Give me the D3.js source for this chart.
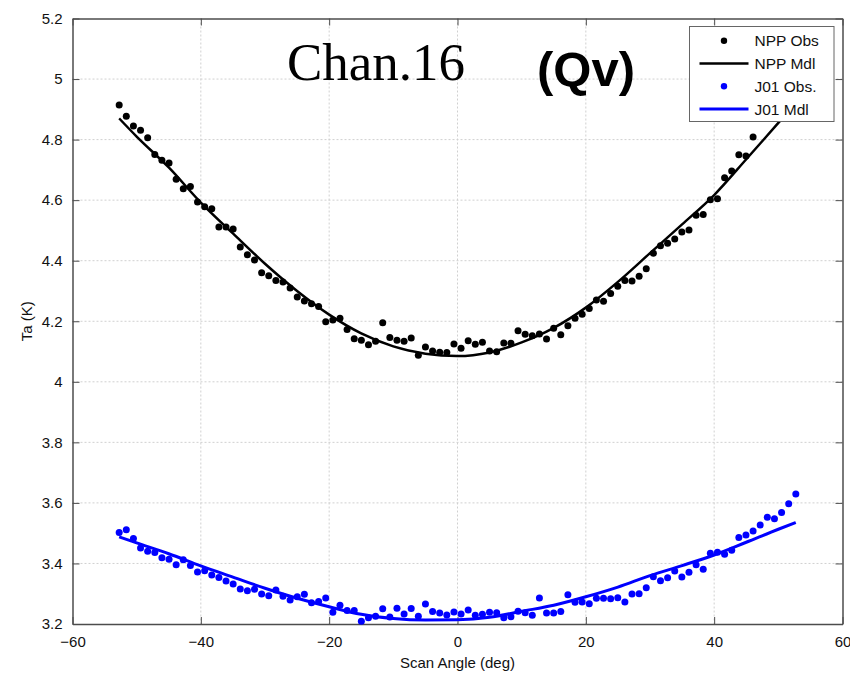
<!DOCTYPE html>
<html>
<head>
<meta charset="utf-8">
<script src="https://cdn.jsdelivr.net/npm/d3@7/dist/d3.min.js"></script>
<style>
  html, body { margin: 0; padding: 0; background: #fff; }
  svg { display: block; }
  text { font-family: "Liberation Sans", Arial, Helvetica, sans-serif; }
</style>
</head>
<body>
<svg id="chart" width="850" height="675"></svg>
<script>
// Scan angles of the ATMS beam positions (deg)
const nppAngles = [
  -52.725, -51.615, -50.505, -49.395, -48.285, -47.175, -46.065, -44.955, -43.845, -42.735,
  -41.625, -40.515, -39.405, -38.295, -37.185, -36.075, -34.965, -33.855, -32.745, -31.635,
  -30.525, -29.415, -28.305, -27.195, -26.085, -24.975, -23.865, -22.755, -21.645, -20.535,
  -19.425, -18.315, -17.205, -16.095, -14.985, -13.875, -12.765, -11.655, -10.545, -9.435,
  -8.325, -7.215, -6.105, -4.995, -3.885, -2.775, -1.665, -0.555, 0.555, 1.665,
  2.775, 3.885, 4.995, 6.105, 7.215, 8.325, 9.435, 10.545, 11.655, 12.765,
  13.875, 14.985, 16.095, 17.205, 18.315, 19.425, 20.535, 21.645, 22.755, 23.865,
  24.975, 26.085, 27.195, 28.305, 29.415, 30.525, 31.635, 32.745, 33.855, 34.965,
  36.075, 37.185, 38.295, 39.405, 40.515, 41.625, 42.735, 43.845, 44.955, 46.065
];
const j01Angles = [
  -52.725, -51.615, -50.505, -49.395, -48.285, -47.175, -46.065, -44.955, -43.845, -42.735,
  -41.625, -40.515, -39.405, -38.295, -37.185, -36.075, -34.965, -33.855, -32.745, -31.635,
  -30.525, -29.415, -28.305, -27.195, -26.085, -24.975, -23.865, -22.755, -21.645, -20.535,
  -19.425, -18.315, -17.205, -16.095, -14.985, -13.875, -12.765, -11.655, -10.545, -9.435,
  -8.325, -7.215, -6.105, -4.995, -3.885, -2.775, -1.665, -0.555, 0.555, 1.665,
  2.775, 3.885, 4.995, 6.105, 7.215, 8.325, 9.435, 10.545, 11.655, 12.765,
  13.875, 14.985, 16.095, 17.205, 18.315, 19.425, 20.535, 21.645, 22.755, 23.865,
  24.975, 26.085, 27.195, 28.305, 29.415, 30.525, 31.635, 32.745, 33.855, 34.965,
  36.075, 37.185, 38.295, 39.405, 40.515, 41.625, 42.735, 43.845, 44.955, 46.065,
  47.175, 48.285, 49.395, 50.505, 51.615, 52.725
];

// Observed antenna temperatures (K)
const nppObs = [
  4.914, 4.877, 4.845, 4.831, 4.806, 4.751, 4.732, 4.723, 4.669, 4.638,
  4.645, 4.594, 4.578, 4.572, 4.511, 4.511, 4.505, 4.445, 4.420, 4.402,
  4.360, 4.350, 4.335, 4.330, 4.310, 4.280, 4.267, 4.258, 4.249, 4.198,
  4.204, 4.210, 4.173, 4.142, 4.137, 4.122, 4.134, 4.195, 4.146, 4.137,
  4.134, 4.145, 4.088, 4.115, 4.102, 4.098, 4.097, 4.125, 4.111, 4.136,
  4.124, 4.131, 4.102, 4.099, 4.128, 4.127, 4.169, 4.157, 4.152, 4.158,
  4.141, 4.177, 4.155, 4.185, 4.210, 4.223, 4.242, 4.270, 4.266, 4.292,
  4.316, 4.335, 4.333, 4.349, 4.373, 4.425, 4.449, 4.458, 4.472, 4.495,
  4.501, 4.550, 4.553, 4.601, 4.605, 4.674, 4.696, 4.750, 4.746, 4.809
];
const j01Obs = [
  3.502, 3.511, 3.482, 3.451, 3.440, 3.436, 3.419, 3.414, 3.396, 3.412,
  3.393, 3.372, 3.376, 3.362, 3.354, 3.342, 3.332, 3.316, 3.310, 3.315,
  3.299, 3.293, 3.312, 3.292, 3.279, 3.290, 3.298, 3.270, 3.274, 3.286,
  3.239, 3.262, 3.245, 3.245, 3.209, 3.221, 3.226, 3.250, 3.223, 3.252,
  3.233, 3.251, 3.226, 3.266, 3.241, 3.236, 3.230, 3.240, 3.233, 3.246,
  3.229, 3.232, 3.239, 3.237, 3.221, 3.224, 3.242, 3.237, 3.229, 3.286,
  3.236, 3.236, 3.241, 3.297, 3.272, 3.273, 3.267, 3.285, 3.285, 3.283,
  3.287, 3.273, 3.299, 3.300, 3.320, 3.356, 3.343, 3.353, 3.375, 3.355,
  3.371, 3.396, 3.381, 3.434, 3.437, 3.430, 3.444, 3.486, 3.494, 3.507,
  3.527, 3.553, 3.548, 3.568, 3.597, 3.629
];

// Model curves (K) at selected scan angles
const mdlAngles = [-52.725, -50, -45, -40, -35, -30, -25, -20, -15, -10, -5, 0,
                   5, 10, 15, 20, 25, 30, 35, 40, 45, 50, 52.725];
const nppMdl = [4.870, 4.810, 4.708, 4.592, 4.490, 4.390, 4.300, 4.222, 4.160, 4.117, 4.093, 4.085,
                4.097, 4.130, 4.178, 4.245, 4.330, 4.425, 4.520, 4.617, 4.735, 4.855, 4.920];
const j01Mdl = [3.488, 3.468, 3.432, 3.392, 3.355, 3.318, 3.285, 3.257, 3.232, 3.218, 3.213, 3.214,
                3.222, 3.242, 3.262, 3.290, 3.322, 3.360, 3.393, 3.428, 3.470, 3.513, 3.535];

const xTicks = [-60, -40, -20, 0, 20, 40, 60];
const yTicks = [3.2, 3.4, 3.6, 3.8, 4, 4.2, 4.4, 4.6, 4.8, 5, 5.2];

const legendItems = [
  { label: "NPP Obs",  color: "#000000", kind: "dot" },
  { label: "NPP Mdl",  color: "#000000", kind: "line" },
  { label: "J01 Obs.", color: "#0000ff", kind: "dot" },
  { label: "J01 Mdl",  color: "#0000ff", kind: "line" }
];

const svg = d3.select("#chart");
const m = { left: 72.5, top: 18.5, right: 842.5, bottom: 624 };

const x = d3.scaleLinear().domain([-60, 60]).range([m.left, m.right]);
const y = d3.scaleLinear().domain([3.2, 5.2]).range([m.bottom, m.top]);

// grid
const grid = svg.append("g");
grid.selectAll("line.gx").data(xTicks.slice(1, -1)).join("line")
  .attr("x1", d => x(d)).attr("x2", d => x(d))
  .attr("y1", m.top).attr("y2", m.bottom)
  .attr("stroke", "#d0d0d0").attr("stroke-width", 1).attr("stroke-dasharray", "2,2");
grid.selectAll("line.gy").data(yTicks.slice(1, -1)).join("line")
  .attr("y1", d => y(d)).attr("y2", d => y(d))
  .attr("x1", m.left).attr("x2", m.right)
  .attr("stroke", "#d0d0d0").attr("stroke-width", 1).attr("stroke-dasharray", "2,2");

// axes with inward ticks on all four sides
const axisColor = "#4d4d4d";
const tickLen = 7;
const gB = svg.append("g").attr("transform", `translate(0,${m.bottom})`)
  .call(d3.axisBottom(x).tickValues(xTicks).tickSizeInner(-tickLen).tickSizeOuter(0).tickPadding(12).tickFormat(d3.format("d")));
const gT = svg.append("g").attr("transform", `translate(0,${m.top})`)
  .call(d3.axisTop(x).tickValues(xTicks).tickSizeInner(-tickLen).tickSizeOuter(0).tickFormat(""));
const gL = svg.append("g").attr("transform", `translate(${m.left},0)`)
  .call(d3.axisLeft(y).tickValues(yTicks).tickSizeInner(-tickLen).tickSizeOuter(0).tickPadding(10).tickFormat(d => d3.format("")(+d.toFixed(1))));
const gR = svg.append("g").attr("transform", `translate(${m.right},0)`)
  .call(d3.axisRight(y).tickValues(yTicks).tickSizeInner(-tickLen).tickSizeOuter(0).tickFormat(""));
[gB, gT, gL, gR].forEach(g => {
  g.select(".domain").attr("stroke", axisColor).attr("stroke-width", 1.5);
  g.selectAll(".tick line").attr("stroke", axisColor).attr("stroke-width", 1);
  g.selectAll(".tick text").attr("fill", "#111").style("font-size", "15px")
    .style("font-family", "'Liberation Sans', Arial, sans-serif");
});
gB.selectAll(".tick text").attr("dy", "0.71em");

// axis titles
svg.append("text").attr("x", (m.left + m.right) / 2).attr("y", 668)
  .attr("text-anchor", "middle").style("font-size", "15px").attr("fill", "#111")
  .text("Scan Angle (deg)");
svg.append("text").attr("transform", `translate(32,${(m.top + m.bottom) / 2}) rotate(-90)`)
  .attr("text-anchor", "middle").style("font-size", "15px").attr("fill", "#111")
  .text("Ta (K)");

// model curves
const line = d3.line().x(d => x(d[0])).y(d => y(d[1])).curve(d3.curveMonotoneX);
const plot = svg.append("g");
plot.append("path").datum(mdlAngles.map((a, i) => [a, nppMdl[i]]))
  .attr("d", line).attr("fill", "none").attr("stroke", "#000").attr("stroke-width", 2.5);
plot.append("path").datum(mdlAngles.map((a, i) => [a, j01Mdl[i]]))
  .attr("d", line).attr("fill", "none").attr("stroke", "#0000ff").attr("stroke-width", 3);

// observations
plot.selectAll("circle.npp").data(nppAngles.map((a, i) => [a, nppObs[i]])).join("circle")
  .attr("cx", d => x(d[0])).attr("cy", d => y(d[1])).attr("r", 3.5).attr("fill", "#000");
plot.selectAll("circle.j01").data(j01Angles.map((a, i) => [a, j01Obs[i]])).join("circle")
  .attr("cx", d => x(d[0])).attr("cy", d => y(d[1])).attr("r", 3.5).attr("fill", "#0000ff");

// title
svg.append("text").attr("x", 287).attr("y", 80)
  .style("font-family", "'Liberation Serif', 'Times New Roman', serif").style("font-size", "53px")
  .attr("fill", "#000").text("Chan.16");
svg.append("text").attr("x", 537).attr("y", 86)
  .style("font-family", "'Liberation Sans', Arial, sans-serif").style("font-size", "49px")
  .style("font-weight", "bold").attr("fill", "#000").text("(Qv)");

// legend
const lg = svg.append("g").attr("transform", "translate(689.5,26.5)");
lg.append("rect").attr("width", 144.5).attr("height", 95)
  .attr("fill", "#fff").attr("stroke", "#666").attr("stroke-width", 1);
const rows = lg.selectAll("g.row").data(legendItems).join("g")
  .attr("transform", (d, i) => `translate(0,${14.2 + i * 22.8})`);
rows.filter(d => d.kind === "line").append("line")
  .attr("x1", 10).attr("x2", 59).attr("y1", 0).attr("y2", 0)
  .attr("stroke", d => d.color).attr("stroke-width", d => d.color === "#000000" ? 2.5 : 3);
rows.filter(d => d.kind === "dot").append("circle")
  .attr("cx", 34.5).attr("cy", 0).attr("r", 3.2).attr("fill", d => d.color);
rows.append("text").attr("x", 65).attr("y", 0).attr("dy", "0.35em")
  .style("font-size", "15.5px").attr("fill", "#111").text(d => d.label);
</script>
</body>
</html>
